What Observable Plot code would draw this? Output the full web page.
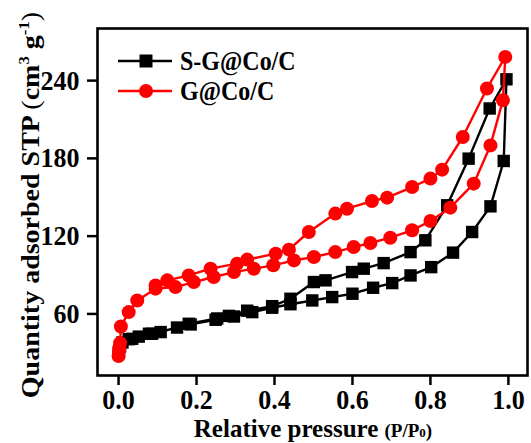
<!DOCTYPE html>
<html><head><meta charset="utf-8">
<script src="https://cdn.jsdelivr.net/npm/d3@7"></script>
<script src="https://cdn.jsdelivr.net/npm/@observablehq/plot@0.6"></script>
<style>body{margin:0;background:#fff;} svg{display:block;}</style>
</head><body><div id="chart"></div>
<script>
// S-G@Co/C (black squares)
const sgAdsP = [0.001,0.004,0.01,0.026,0.052,0.086,0.15,0.185,0.249,0.296,0.343,0.394,0.441,0.497,0.548,0.6,0.653,0.702,0.749,0.802,0.858,0.907,0.954,0.988,0.995];
const sgAdsV = [30.5,35,38,40.5,42.5,44.7,49.5,51.9,55.5,58,61.4,64.8,67.5,70.4,73,75.6,80.2,83.8,89.7,96.1,107.3,123.2,143,178,241];
const sgDesP = [0.952,0.898,0.843,0.787,0.749,0.68,0.629,0.599,0.531,0.501,0.441,0.394,0.33,0.283,0.253,0.18,0.108,0.078,0.035];
const sgDesV = [218.5,179.8,143.8,116.8,107.7,99.2,94.9,92.3,85.9,84.6,71.7,66,62.5,58.5,56.5,52.4,46,44.7,40.8];
// G@Co/C (red circles)
const gAdsP = [0.0,0.001,0.002,0.004,0.006,0.026,0.048,0.095,0.146,0.193,0.244,0.296,0.347,0.397,0.45,0.501,0.556,0.603,0.646,0.697,0.753,0.8,0.851,0.911,0.954,0.986,0.992];
const gAdsV = [27.5,31,34,37.5,50.3,61.4,70.4,79.5,80.7,84.6,88.5,92.3,94.9,97.5,101.3,103.9,107.7,111.6,114.7,118.8,124.5,131.7,142,160.5,190,224.9,258.3];
const gDesP = [0.945,0.883,0.83,0.8,0.753,0.689,0.65,0.586,0.556,0.488,0.437,0.403,0.33,0.304,0.236,0.18,0.125,0.095];
const gDesV = [233.9,196.5,171.3,164.4,157.9,149.7,147.1,141.2,137.4,123.2,109.6,106.5,101.9,98.8,94.9,89.7,85.9,82];

const xTicks = [0,0.2,0.4,0.6,0.8,1.0];
const yTicks = [60,120,180,240];
const seriesNames = ["S-G@Co/C","G@Co/C"];
const seriesColors = ["#000000","#ff0000"];

function build(pa, va, pd, vd){
  const out = [];
  pa.forEach((p,i)=>out.push({p, v: va[i]}));
  pd.forEach((p,i)=>out.push({p, v: vd[i]}));
  return out;
}
const sg = build(sgAdsP, sgAdsV, sgDesP, sgDesV);
const g = build(gAdsP, gAdsV, gDesP, gDesV);

const FONT = "'Liberation Serif','Times New Roman',serif";
const SY = 1.08; // slight vertical stretch of lettering, as in the reference
const W = 531, H = 443;
const chart = Plot.plot({
  width: W, height: H,
  marginLeft: 97, marginRight: 4, marginTop: 28, marginBottom: 68,
  style: `font-family:${FONT};font-weight:bold;font-size:26px;color:#000;background:#fff;`,
  x: {domain: [-0.054, 1.049]},
  y: {domain: [12.5, 280.2]},
  marks: [
    Plot.axisX({ticks: xTicks, tickFormat: d3.format(".1f"), tickSize: 10, tickPadding: 4, strokeWidth: 2.5, label: null, fontSize: 26, fontWeight: "bold"}),
    Plot.axisY({ticks: yTicks, tickSize: 10, tickPadding: 8, strokeWidth: 2.5, label: null, fontSize: 26, fontWeight: "bold"}),
    Plot.line(sg, {x: "p", y: "v", stroke: seriesColors[0], strokeWidth: 2.4}),
    Plot.dot(sg, {x: "p", y: "v", symbol: "square", fill: seriesColors[0], r: 7}),
    Plot.line(g, {x: "p", y: "v", stroke: seriesColors[1], strokeWidth: 2.4}),
    Plot.dot(g, {x: "p", y: "v", symbol: "circle", fill: seriesColors[1], r: 7}),
    Plot.frame({stroke: "#000", strokeWidth: 2.6})
  ]
});
document.getElementById("chart").appendChild(chart);

const svg = d3.select(chart);
// stretch tick labels vertically
svg.selectAll("g[aria-label='x-axis tick label'] text, g[aria-label='y-axis tick label'] text").each(function(){
  const t = this.getAttribute("transform") || "";
  this.setAttribute("transform", t + ` scale(1,${SY})`);
});

// Legend
const leg = svg.append("g").attr("font-family", FONT).attr("font-weight","bold");
const legY = [61, 91];
seriesNames.forEach((name,i)=>{
  const y = legY[i];
  leg.append("line").attr("x1",118).attr("x2",172).attr("y1",y).attr("y2",y).attr("stroke",seriesColors[i]).attr("stroke-width",2.4);
  if (i===0) leg.append("rect").attr("x",146-6.5).attr("y",y-6.5).attr("width",13).attr("height",13).attr("fill",seriesColors[i]);
  else leg.append("circle").attr("cx",146).attr("cy",y).attr("r",7).attr("fill",seriesColors[i]);
  leg.append("text").attr("text-anchor","start").attr("font-size",24).attr("fill","#000")
    .attr("transform",`translate(180,${y}) scale(1,1.12)`).attr("dy","0.35em").text(name);
});

// X axis title, built from separate pieces placed side by side
const xParts = [["Relative pressure ",25],["(P/P",19],["0",13],[")",19]];
const xg = svg.append("g").attr("font-family", FONT).attr("font-weight","bold").attr("fill","#000");
const xEls = xParts.map(([s,fs])=> xg.append("text").attr("text-anchor","start").attr("font-size",fs).text(s));
const widths = xEls.map(e=>e.node().getComputedTextLength());
const total = widths.reduce((a,b)=>a+b,0);
let cx = 313 - total/2;
xEls.forEach((e,i)=>{ e.attr("transform",`translate(${cx},437)`); cx += widths[i]; });

// Y axis title
const yt = svg.append("text").attr("transform",`translate(39,205) scale(1,1.12) rotate(-90)`).attr("text-anchor","middle")
  .attr("font-family", FONT).attr("font-weight","bold").attr("font-size",25).attr("fill","#000");
yt.append("tspan").text("Quantity adsorbed STP ");
yt.append("tspan").attr("font-weight","normal").text("(");
yt.append("tspan").text("cm");
yt.append("tspan").attr("font-size",15).attr("dy","-10").text("3");
yt.append("tspan").attr("dy","10").text(" g");
yt.append("tspan").attr("font-size",15).attr("dy","-10").text("-1");
yt.append("tspan").attr("dy","10").attr("font-weight","normal").text(")");
</script>
</body></html>
